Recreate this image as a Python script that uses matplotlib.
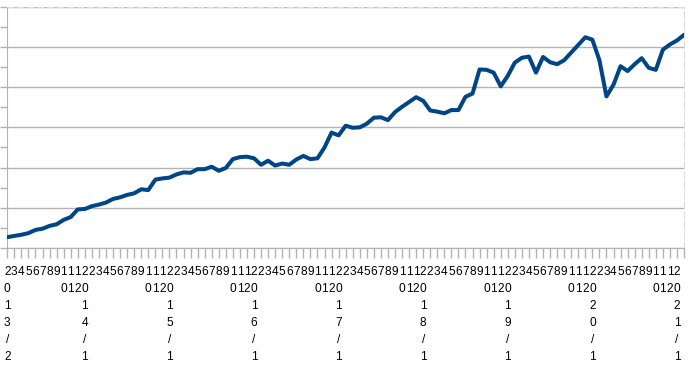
import matplotlib
matplotlib.use('Agg')
import matplotlib.pyplot as plt
from matplotlib.ticker import MultipleLocator

plt.rcParams['font.family'] = ['Liberation Sans', 'DejaVu Sans']

# monthly series, 2013/2 .. 2021/2 (gridline step = 1)
values = [
    0.27, 0.30, 0.33, 0.37, 0.45, 0.48, 0.55, 0.59, 0.70, 0.77, 0.96,
    0.97, 1.04, 1.08, 1.13, 1.22, 1.26, 1.32, 1.36, 1.46, 1.44, 1.70,
    1.73, 1.75, 1.83, 1.88, 1.87, 1.96, 1.96, 2.02, 1.92, 1.99, 2.21,
    2.26, 2.27, 2.23, 2.07, 2.17, 2.05, 2.10, 2.07, 2.20, 2.29, 2.21,
    2.23, 2.50, 2.87, 2.80, 3.04, 2.99, 3.00, 3.09, 3.24, 3.25, 3.18,
    3.38, 3.51, 3.63, 3.75, 3.66, 3.42, 3.39, 3.35, 3.43, 3.43, 3.76,
    3.84, 4.44, 4.43, 4.36, 4.02, 4.28, 4.61, 4.73, 4.76, 4.36, 4.75,
    4.62, 4.57, 4.67, 4.86, 5.05, 5.24, 5.18, 4.67, 3.77, 4.06, 4.52,
    4.40, 4.57, 4.72, 4.48, 4.43, 4.93, 5.06, 5.16, 5.30,
]
start_year, start_month = 2013, 2

# x labels: year/month at the start and every January, month number otherwise,
# drawn one character per line like the original
labels = []
for k in range(len(values)):
    m = (start_month - 1 + k) % 12 + 1
    yr = start_year + (start_month - 1 + k) // 12
    lab = f'{yr}/{m}' if (k == 0 or m == 1) else str(m)
    labels.append('\n'.join(lab))
labels[-1] = ''  # last one is not shown in the chart

fig = plt.figure(figsize=(6.91, 3.67), dpi=100)
ax = fig.add_axes([7.3 / 691, 119 / 367, (684 - 7.3) / 691, (248 - 6.7) / 367])

x = list(range(len(values)))
ax.plot(x, values, color='#004586', linewidth=2.9, solid_joinstyle='round',
        solid_capstyle='round', zorder=3)

ax.set_xlim(0, len(values) - 1)
ax.set_ylim(0, 6)

ax.yaxis.set_major_locator(MultipleLocator(1))
ax.yaxis.set_minor_locator(MultipleLocator(0.5))
ax.set_yticklabels([])
ax.grid(True, axis='y', which='major', color='#b3b3b3', linewidth=1)
ax.tick_params(axis='y', which='both', direction='out', length=5,
               color='#b3b3b3', width=1)

ax.set_xticks(x)
ax.set_xticklabels(labels, fontsize=8.6, linespacing=1.55, va='top', ha='center')
ax.tick_params(axis='x', direction='out', length=7, color='#b3b3b3', width=1,
               pad=6, labelcolor='black')

for side in ['left', 'bottom']:
    ax.spines[side].set_color('#b3b3b3')
for side in ['top', 'right']:
    ax.spines[side].set_color('#dcdcdc')
    ax.spines[side].set_linestyle((0, (6, 3)))

plt.savefig('out.png', dpi=100)
plt.close()
